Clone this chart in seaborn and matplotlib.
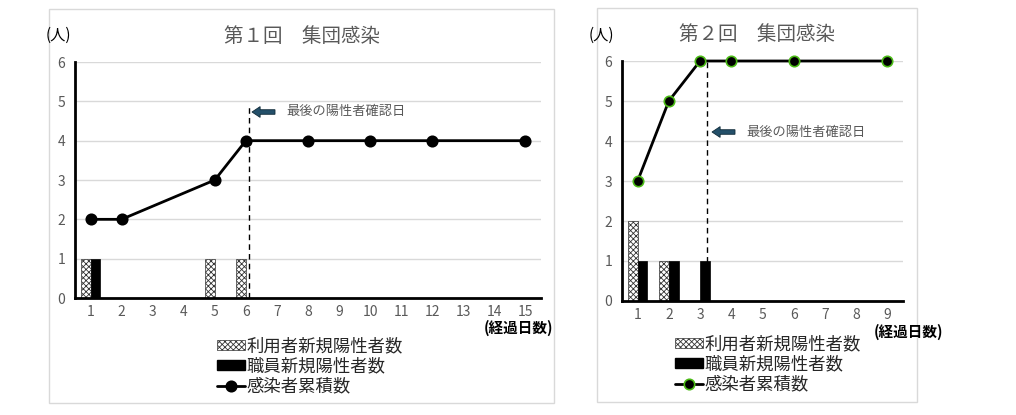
import pandas as pd
import seaborn as sns
import matplotlib.pyplot as plt
from matplotlib.patches import Patch, Rectangle, FancyArrow
from matplotlib.lines import Line2D

# --- data -------------------------------------------------------------
days1 = ["1", "2", "3", "4", "5", "6", "7", "8", "9", "10", "11", "12", "13", "14", "15"]
users1 = [1, 0, 0, 0, 1, 1, 0, 0, 0, 0, 0, 0, 0, 0, 0]
staff1 = [1, 0, 0, 0, 0, 0, 0, 0, 0, 0, 0, 0, 0, 0, 0]
cum_days1 = ["1", "2", "5", "6", "8", "10", "12", "15"]
cum_vals1 = [2, 2, 3, 4, 4, 4, 4, 4]
last_day1 = "6"

days2 = ["1", "2", "3", "4", "5", "6", "7", "8", "9"]
users2 = [2, 1, 0, 0, 0, 0, 0, 0, 0]
staff2 = [1, 1, 1, 0, 0, 0, 0, 0, 0]
cum_days2 = ["1", "2", "3", "4", "6", "9"]
cum_vals2 = [3, 5, 6, 6, 6, 6]
last_day2 = "3"

titles = ["第１回　集団感染", "第２回　集団感染"]
legend_labels = ["利用者新規陽性者数", "職員新規陽性者数", "感染者累積数"]

sns.set_style("white")
plt.rcParams["font.family"] = ["Noto Sans CJK JP", "DejaVu Sans"]
plt.rcParams["hatch.linewidth"] = 0.6

W, H = 1016, 415
fig = plt.figure(figsize=(W / 100, H / 100), dpi=100)
GREY = "#595959"
ARROW = "#24506a"


def fx(px):
    return px / W


def fy(py):
    return 1 - py / H


def draw_panel(box, ax_px, days, users, staff, cum_days, cum_vals, last_day,
               dash_off, dash_top, arrow_px, title, title_px, unit_px, xlab_px,
               leg_px, mec):
    # light panel border
    x0, y0, x1, y1 = box
    fig.patches.append(Rectangle((fx(x0), fy(y1)), fx(x1 - x0), (y1 - y0) / H,
                                 transform=fig.transFigure, fill=False,
                                 edgecolor="#d9d9d9", lw=1))
    l, t, r, b = ax_px
    ax = fig.add_axes([fx(l), fy(b), fx(r - l), (b - t) / H])

    df = pd.DataFrame({
        "day": days * 2,
        "n": users + staff,
        "kind": ["user"] * len(days) + ["staff"] * len(days),
    })
    sns.barplot(data=df, x="day", y="n", hue="kind", order=days,
                hue_order=["user", "staff"],
                palette={"user": "white", "staff": "black"},
                width=0.62, edgecolor="black", linewidth=0.5, ax=ax, legend=False)
    for p in ax.containers[0]:
        p.set_hatch("xxxxxx")
        p.set_edgecolor("#333333")

    xs = [days.index(d) for d in cum_days]
    ax.plot(xs, cum_vals, color="black", lw=2, marker="o", ms=7.5,
            mfc="black", mec=mec, mew=1.2, zorder=5, clip_on=False)

    xd = days.index(last_day) + dash_off
    ax.vlines(xd, 0, dash_top, colors="black", linestyles=(0, (4, 3)), lw=1, zorder=4)

    ax.set_xlim(-0.5, len(days) - 0.5)
    ax.set_ylim(0, 6)
    ax.set_yticks(range(0, 7))
    ax.yaxis.grid(True, color="#d9d9d9", lw=1)
    ax.set_axisbelow(True)
    for s in ["top", "right"]:
        ax.spines[s].set_visible(False)
    for s in ["left", "bottom"]:
        ax.spines[s].set_linewidth(2)
        ax.spines[s].set_color("black")
    ax.tick_params(length=0, labelsize=10, colors=GREY, pad=5)
    ax.tick_params(axis="y", pad=7)
    ax.set_xlabel("")
    ax.set_ylabel("")

    # arrow + note
    ax_x0, ax_x1, ay = arrow_px
    fig.patches.append(FancyArrow(fx(ax_x0), fy(ay), fx(ax_x1 - ax_x0), 0,
                                  width=0.011, head_width=0.026, head_length=0.008,
                                  length_includes_head=True, transform=fig.transFigure,
                                  facecolor=ARROW, edgecolor="#0f2a38", lw=0.6))
    fig.text(fx(ax_x0 + 11), fy(ay), "最後の陽性者確認日", fontsize=9.5,
             color=GREY, va="center", ha="left")

    fig.text(fx(title_px[0]), fy(title_px[1]), title, fontsize=14, color=GREY,
             ha="center", va="center")
    fig.text(fx(unit_px[0]), fy(unit_px[1]), "(人)", fontsize=11, color="black",
             ha="left", va="center")
    fig.text(fx(xlab_px[0]), fy(xlab_px[1]), "(経過日数)", fontsize=10.5,
             color="black", fontweight="bold", ha="right", va="center")

    handles = [
        Patch(facecolor="white", edgecolor="#333333", hatch="xxxxxx", lw=0.5),
        Patch(facecolor="black", edgecolor="black"),
        Line2D([0], [0], color="black", lw=2, marker="o", ms=7.5,
               mfc="black", mec=mec, mew=1.2),
    ]
    fig.legend(handles, legend_labels, loc="upper left",
               bbox_to_anchor=(fx(leg_px[0]), fy(leg_px[1])),
               frameon=False, fontsize=12.5, labelspacing=0.12,
               handlelength=1.6, handleheight=0.5, handletextpad=0.1,
               borderpad=0, borderaxespad=0)
    return ax


draw_panel((49, 9, 554, 403), (75, 62, 541, 298), days1, users1, staff1,
           cum_days1, cum_vals1, last_day1, 0.1, 4.88, (275, 252, 112),
           titles[0], (302, 36), (46, 35), (553, 328), (217, 337), "black")

draw_panel((597, 8, 917, 402), (622, 61, 903, 301), days2, users2, staff2,
           cum_days2, cum_vals2, last_day2, 0.22, 6.0, (735, 712, 132),
           titles[1], (757, 35), (589, 35), (943, 332), (675, 335), "#4cbb17")

fig.savefig("out.png", dpi=100, facecolor="white")
